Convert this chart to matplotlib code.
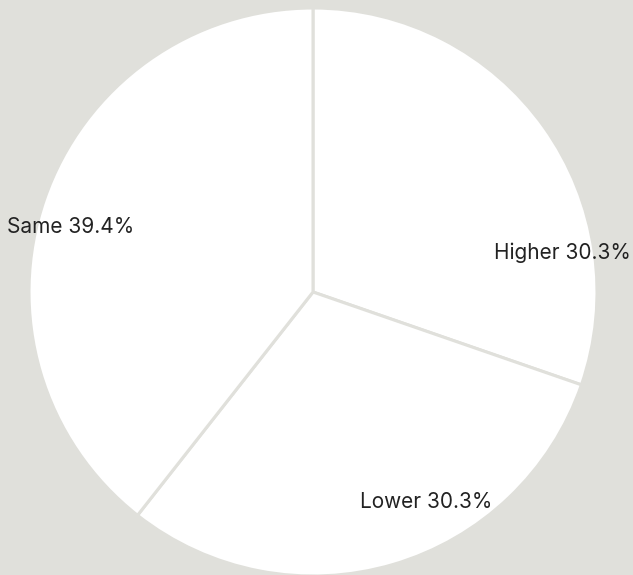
import matplotlib
matplotlib.use("Agg")
import matplotlib.pyplot as plt

# data
labels = ["Higher", "Lower", "Same"]
shares = [30.3, 30.3, 39.4]

bg = "#e0e0db"
plt.rcParams['font.family'] = ['Inter', 'DejaVu Sans']

fig = plt.figure(figsize=(6.33, 5.75), dpi=100, facecolor=bg)
ax = fig.add_axes([0, 0, 1, 1])
ax.set_facecolor(bg)

# pixel-like coordinates, origin bottom-left
ax.pie(shares, startangle=90, counterclock=False, center=(313, 283), radius=284,
       colors=["white"] * 3,
       wedgeprops=dict(edgecolor=bg, linewidth=2.2), frame=True)
ax.set_xlim(0, 633)
ax.set_ylim(0, 575)
ax.set_aspect("equal")
ax.axis("off")

# label positions (x centre, y) in pixel space
label_pos = [(562, 575 - 253), (426, 575 - 502), (71, 575 - 227)]
for lab, val, (x, y) in zip(labels, shares, label_pos):
    ax.text(x, y, f"{lab} {val}%", ha="center", va="center",
            fontsize=15, color="#222222")

fig.savefig("out.png", dpi=100, facecolor=bg)
